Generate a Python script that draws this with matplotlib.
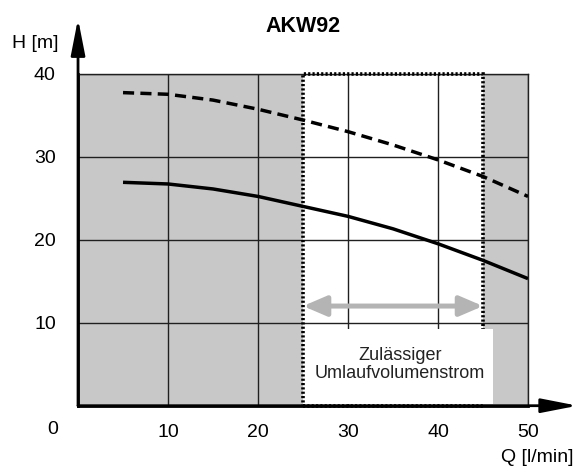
import numpy as np
import matplotlib
matplotlib.use('Agg')
import matplotlib.pyplot as plt
from matplotlib.patches import Rectangle, FancyArrowPatch

plt.rcParams['font.family'] = ['Liberation Sans', 'DejaVu Sans']

# flow rate Q [l/min] and head H [m]
q = [5, 10, 15, 20, 25, 30, 35, 40, 45, 50]
h_lower = [26.9, 26.7, 26.1, 25.2, 24.0, 22.8, 21.3, 19.5, 17.5, 15.3]
h_upper = [37.7, 37.5, 36.8, 35.7, 34.4, 33.0, 31.4, 29.6, 27.6, 25.2]

x_ticks = [10, 20, 30, 40, 50]
y_ticks = [10, 20, 30, 40]
allowed_range = (25, 45)
title = 'AKW92'
box_text = 'Zulässiger\nUmlaufvolumenstrom'

fig = plt.figure(figsize=(5.75, 4.68), dpi=100)
ax = fig.add_axes([0.1357, 0.1331, 0.7826, 0.7098])
ax.set_xlim(0, 50)
ax.set_ylim(0, 40)
ax.set_facecolor('#c8c8c8')

# allowed range (white)
ax.add_patch(Rectangle((allowed_range[0], 0), allowed_range[1] - allowed_range[0], 40,
                       facecolor='white', edgecolor='none', zorder=0.5))

ax.set_xticks(x_ticks)
ax.set_yticks(y_ticks)
ax.grid(True, color='#202020', lw=1.0, zorder=1)
ax.set_axisbelow(True)
ax.tick_params(length=0, labelsize=14)
ax.tick_params(axis='x', pad=13)
ax.tick_params(axis='y', pad=16)

for s in ['top', 'right']:
    ax.spines[s].set_linewidth(1.0)
    ax.spines[s].set_color('#202020')
for s in ['left', 'bottom']:
    ax.spines[s].set_linewidth(2.0)

# curves
ax.plot(q, h_lower, color='black', lw=2.5, zorder=3, solid_capstyle='butt')
ax.plot(q, h_upper, color='black', lw=2.5, ls=(0, (3.2, 1.8)), zorder=3)

# dotted frame of allowed range
ax.add_patch(Rectangle((allowed_range[0], 0), allowed_range[1] - allowed_range[0], 40,
                       facecolor='none', edgecolor='black', lw=2.6,
                       ls=(0, (0.6, 0.6)), zorder=4, clip_on=False))

# gray double arrow
ax.add_patch(FancyArrowPatch((25.0, 12.0), (45.0, 12.0),
                             arrowstyle='<|-|>,head_length=14,head_width=6',
                             mutation_scale=1, color='#b4b4b4', lw=3.6, zorder=5,
                             shrinkA=0, shrinkB=0))

# text box
ax.add_patch(Rectangle((25.2, 0.2), 20.9, 9.05, facecolor='white',
                       edgecolor='none', zorder=5, clip_on=False))
ax.text(35.8, 5.0, box_text, ha='center', va='center', fontsize=13,
        color='#222222', linespacing=1.05, zorder=6)

# axis arrows
ax.add_patch(FancyArrowPatch((0, 0), (0, 46.6), arrowstyle='-|>,head_length=22,head_width=4.3',
                             mutation_scale=1, color='black', lw=2.0, clip_on=False, zorder=6,
                             shrinkA=0, shrinkB=0))
ax.add_patch(FancyArrowPatch((0, 0), (55.5, 0), arrowstyle='-|>,head_length=22,head_width=4.3',
                             mutation_scale=1, color='black', lw=2.0, clip_on=False, zorder=6,
                             shrinkA=0, shrinkB=0))

ax.text(-2.8, -2.9, '0', ha='center', va='center', fontsize=14)
ax.text(-4.8, 43.6, 'H [m]', ha='center', va='center', fontsize=14)
ax.text(55.0, -6.2, 'Q [l/min]', ha='right', va='center', fontsize=14)
ax.text(25.0, 45.7, title, ha='center', va='center', fontsize=15.5, fontweight='bold')

fig.savefig('out.png', dpi=100)
